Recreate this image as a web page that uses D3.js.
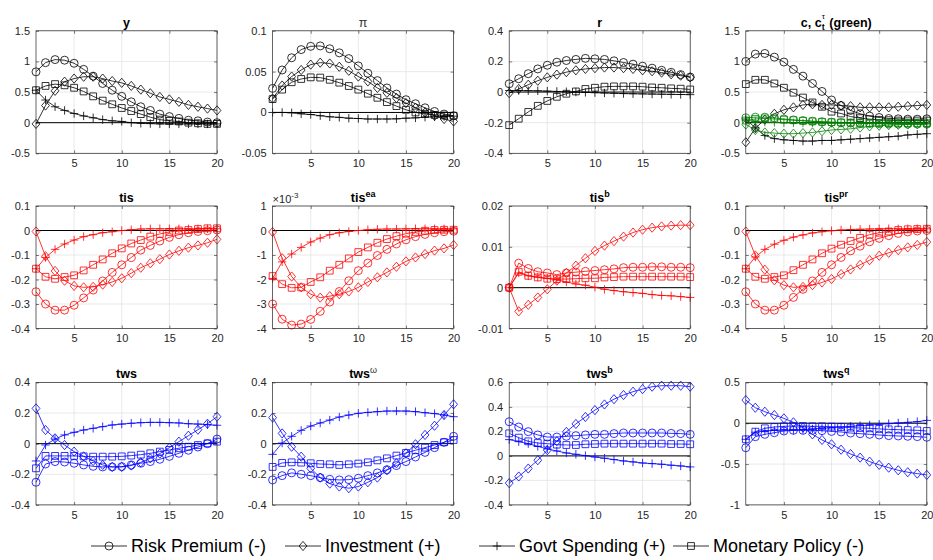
<!DOCTYPE html>
<html><head><meta charset="utf-8">
<script src="https://cdn.jsdelivr.net/npm/d3@7"></script>
<style>
body{margin:0;background:#fff}
svg{display:block}
text{font-family:"Liberation Sans",Arial,Helvetica,sans-serif}
</style>
</head><body>
<svg id="chart" width="933" height="560"></svg>
<script>
// ---------------- DATA ----------------
const periods = [1,2,3,4,5,6,7,8,9,10,11,12,13,14,15,16,17,18,19,20];
const seriesNames = ["Risk Premium (-)","Investment (+)","Govt Spending (+)","Monetary Policy (-)"];

// y
const y_RP  = [0.83,0.98,1.03,1.02,0.97,0.87,0.76,0.64,0.53,0.43,0.34,0.26,0.20,0.14,0.10,0.07,0.04,0.03,0.01,0.00];
const y_INV = [-0.02,0.28,0.52,0.67,0.72,0.75,0.75,0.72,0.68,0.65,0.60,0.54,0.48,0.42,0.38,0.34,0.29,0.26,0.23,0.20];
const y_GOV = [0.53,0.37,0.26,0.20,0.15,0.11,0.08,0.05,0.03,0.02,0.00,-0.01,-0.015,-0.02,-0.02,-0.02,-0.02,-0.02,-0.02,-0.02];
const y_MP  = [0.53,0.60,0.63,0.61,0.57,0.51,0.43,0.36,0.30,0.24,0.19,0.14,0.09,0.05,0.03,0.02,0.00,-0.01,-0.02,-0.02];
// pi
const pi_RP  = [0.0295,0.052,0.067,0.077,0.081,0.0815,0.078,0.073,0.066,0.057,0.048,0.039,0.030,0.0225,0.0156,0.0107,0.0057,0.0012,-0.002,-0.004];
const pi_INV = [0.017,0.033,0.044,0.052,0.0586,0.061,0.060,0.056,0.051,0.044,0.038,0.030,0.024,0.0176,0.0115,0.0057,0.0,-0.004,-0.008,-0.011];
const pi_GOV = [0,0,-0.0004,-0.0016,-0.0025,-0.004,-0.0053,-0.006,-0.007,-0.0074,-0.008,-0.008,-0.008,-0.0078,-0.007,-0.0066,-0.0057,-0.0053,-0.005,-0.0045];
const pi_MP  = [0.0164,0.028,0.037,0.041,0.043,0.0427,0.040,0.0365,0.0324,0.028,0.023,0.018,0.0127,0.0078,0.0033,0.0,-0.0016,-0.003,-0.0037,-0.004];
// r
const r_RP  = [0.054,0.087,0.12,0.151,0.175,0.195,0.206,0.213,0.22,0.217,0.213,0.204,0.193,0.182,0.169,0.156,0.142,0.129,0.114,0.098];
const r_INV = [-0.007,0.02,0.048,0.074,0.096,0.114,0.13,0.142,0.151,0.156,0.16,0.16,0.156,0.151,0.142,0.136,0.127,0.116,0.107,0.096];
const r_GOV = [0.01,0.01,0.009,0.008,0.006,0.004,0.002,0.0,-0.002,-0.004,-0.006,-0.008,-0.01,-0.011,-0.012,-0.013,-0.014,-0.015,-0.016,-0.017];
const r_MP  = [-0.216,-0.174,-0.13,-0.09,-0.058,-0.031,-0.011,0.004,0.02,0.028,0.035,0.037,0.037,0.037,0.035,0.03,0.028,0.024,0.022,0.017];
// c (black) and c_t^tau (green)
const c_RP  = [1.0,1.12,1.13,1.07,0.99,0.87,0.76,0.64,0.51,0.37,0.28,0.2,0.145,0.107,0.085,0.068,0.063,0.057,0.057,0.063];
const c_INV = [-0.32,-0.09,0.05,0.145,0.21,0.25,0.29,0.30,0.29,0.29,0.28,0.27,0.25,0.25,0.25,0.25,0.26,0.27,0.28,0.29];
const c_GOV = [0.06,-0.085,-0.21,-0.26,-0.28,-0.29,-0.30,-0.30,-0.29,-0.29,-0.28,-0.27,-0.26,-0.25,-0.24,-0.23,-0.22,-0.2,-0.19,-0.18];
const c_MP  = [0.63,0.70,0.70,0.64,0.57,0.49,0.41,0.33,0.26,0.18,0.15,0.10,0.074,0.057,0.046,0.04,0.035,0.035,0.035,0.035];
const cT_RP  = [0.08,0.09,0.09,0.08,0.06,0.045,0.035,0.025,0.015,0.007,0.0,-0.005,-0.01,-0.015,-0.018,-0.02,-0.022,-0.023,-0.024,-0.025];
const cT_INV = [-0.03,-0.12,-0.16,-0.17,-0.18,-0.18,-0.17,-0.16,-0.14,-0.12,-0.11,-0.1,-0.08,-0.06,-0.05,-0.04,-0.035,-0.03,-0.025,-0.02];
const cT_GOV = [0.04,0.02,0.01,0.005,0.0,-0.003,-0.005,-0.006,-0.007,-0.008,-0.008,-0.008,-0.008,-0.008,-0.008,-0.008,-0.008,-0.008,-0.008,-0.008];
const cT_MP  = [0.035,0.06,0.07,0.06,0.05,0.04,0.03,0.02,0.014,0.008,0.004,0.0,-0.003,-0.005,-0.006,-0.007,-0.008,-0.008,-0.008,-0.008];
// tis
const tis_RP  = [-0.25,-0.30,-0.325,-0.325,-0.305,-0.275,-0.243,-0.206,-0.171,-0.14,-0.11,-0.08,-0.061,-0.043,-0.028,-0.017,-0.009,-0.004,-0.001,0.002];
const tis_INV = [-0.004,-0.105,-0.165,-0.205,-0.226,-0.232,-0.23,-0.221,-0.21,-0.195,-0.174,-0.152,-0.134,-0.117,-0.098,-0.083,-0.07,-0.061,-0.05,-0.036];
const tis_GOV = [-0.156,-0.11,-0.077,-0.055,-0.039,-0.025,-0.017,-0.009,-0.005,0.0,0.003,0.006,0.007,0.007,0.007,0.007,0.007,0.007,0.007,0.007];
const tis_MP  = [-0.156,-0.189,-0.197,-0.19,-0.183,-0.163,-0.14,-0.118,-0.093,-0.073,-0.053,-0.039,-0.025,-0.014,-0.006,0.0,0.002,0.006,0.009,0.009];
// tis^ea (in units of 1e-3)
const tisEA_RP  = [-3.0,-3.62,-3.86,-3.82,-3.63,-3.3,-2.92,-2.49,-2.05,-1.64,-1.33,-1.02,-0.77,-0.55,-0.38,-0.25,-0.16,-0.09,-0.05,-0.03];
const tisEA_INV = [-0.06,-1.13,-1.88,-2.32,-2.6,-2.74,-2.68,-2.6,-2.49,-2.32,-2.1,-1.91,-1.71,-1.48,-1.26,-1.1,-0.96,-0.82,-0.73,-0.59];
const tisEA_GOV = [-1.96,-1.28,-0.96,-0.69,-0.47,-0.31,-0.17,-0.09,-0.04,0.0,0.03,0.05,0.06,0.06,0.07,0.07,0.07,0.07,0.07,0.07];
const tisEA_MP  = [-1.86,-2.19,-2.34,-2.32,-2.1,-1.91,-1.64,-1.4,-1.14,-0.88,-0.69,-0.5,-0.35,-0.23,-0.13,-0.06,-0.01,0.02,0.03,0.03];
// tis^b
const tisB_RP  = [0.0,0.006,0.0047,0.0039,0.0036,0.0032,0.0036,0.0038,0.004,0.0042,0.0044,0.0046,0.0049,0.005,0.005,0.0051,0.0051,0.005,0.005,0.0049];
const tisB_INV = [0.0,-0.0058,-0.0042,-0.0024,-0.0004,0.0017,0.0036,0.0054,0.0072,0.009,0.0103,0.0114,0.0125,0.0135,0.0142,0.0147,0.015,0.0152,0.0153,0.0153];
const tisB_GOV = [0.0,0.0036,0.0029,0.0026,0.0023,0.0019,0.0014,0.0009,0.0006,0.0001,-0.0004,-0.0007,-0.001,-0.0012,-0.0014,-0.0017,-0.0019,-0.002,-0.0022,-0.0024];
const tisB_MP  = [0.0,0.0039,0.0029,0.0025,0.0022,0.0021,0.0021,0.0022,0.0023,0.0023,0.0025,0.0026,0.0027,0.0027,0.0027,0.0027,0.0027,0.0027,0.0027,0.0026];
// tis^pr
const tisPR_RP  = [-0.25,-0.30,-0.325,-0.325,-0.305,-0.273,-0.24,-0.206,-0.171,-0.14,-0.11,-0.083,-0.064,-0.046,-0.032,-0.021,-0.012,-0.006,-0.002,0.0];
const tisPR_INV = [-0.004,-0.102,-0.16,-0.203,-0.223,-0.232,-0.23,-0.223,-0.212,-0.198,-0.178,-0.159,-0.14,-0.121,-0.103,-0.091,-0.08,-0.069,-0.059,-0.047];
const tisPR_GOV = [-0.156,-0.108,-0.077,-0.056,-0.04,-0.027,-0.018,-0.01,-0.005,-0.001,0.002,0.004,0.005,0.006,0.007,0.007,0.007,0.007,0.007,0.007];
const tisPR_MP  = [-0.156,-0.189,-0.197,-0.19,-0.183,-0.162,-0.14,-0.118,-0.093,-0.074,-0.058,-0.043,-0.03,-0.017,-0.009,-0.004,0.002,0.005,0.006,0.007];
// tws
const tws_RP  = [-0.252,-0.133,-0.117,-0.12,-0.128,-0.139,-0.148,-0.152,-0.152,-0.15,-0.139,-0.128,-0.117,-0.102,-0.083,-0.063,-0.043,-0.022,0.0,0.03];
const tws_INV = [0.23,0.089,0.035,-0.009,-0.052,-0.083,-0.113,-0.139,-0.152,-0.152,-0.143,-0.122,-0.096,-0.065,-0.026,0.013,0.052,0.091,0.13,0.176];
const tws_GOV = [-0.113,-0.009,0.03,0.057,0.074,0.089,0.1,0.111,0.122,0.128,0.133,0.137,0.139,0.139,0.137,0.135,0.13,0.128,0.124,0.12];
const tws_MP  = [-0.161,-0.08,-0.08,-0.08,-0.08,-0.083,-0.085,-0.085,-0.085,-0.083,-0.078,-0.072,-0.063,-0.052,-0.041,-0.03,-0.02,-0.009,0.002,0.013];
// tws^omega
const twsW_RP  = [-0.237,-0.209,-0.191,-0.2,-0.209,-0.222,-0.233,-0.237,-0.235,-0.226,-0.209,-0.191,-0.17,-0.143,-0.117,-0.087,-0.057,-0.026,0.009,0.048];
const twsW_INV = [0.17,0.067,-0.02,-0.085,-0.161,-0.222,-0.261,-0.28,-0.291,-0.28,-0.252,-0.222,-0.174,-0.128,-0.063,-0.004,0.057,0.117,0.187,0.257];
const twsW_GOV = [-0.07,0.004,0.048,0.087,0.115,0.135,0.154,0.174,0.187,0.198,0.204,0.209,0.213,0.213,0.213,0.209,0.202,0.196,0.187,0.176];
const twsW_MP  = [-0.152,-0.126,-0.122,-0.124,-0.128,-0.133,-0.135,-0.139,-0.135,-0.13,-0.122,-0.109,-0.096,-0.078,-0.061,-0.043,-0.026,-0.009,0.009,0.024];
// tws^b
const twsB_RP  = [0.279,0.236,0.198,0.171,0.154,0.154,0.16,0.165,0.171,0.176,0.176,0.182,0.187,0.187,0.187,0.187,0.187,0.184,0.182,0.176];
const twsB_INV = [-0.222,-0.168,-0.103,-0.035,0.047,0.12,0.196,0.261,0.318,0.374,0.42,0.463,0.497,0.524,0.545,0.565,0.573,0.573,0.573,0.565];
const twsB_GOV = [0.133,0.116,0.1,0.078,0.057,0.04,0.024,0.013,0.002,-0.009,-0.019,-0.03,-0.041,-0.049,-0.058,-0.063,-0.068,-0.076,-0.082,-0.09];
const twsB_MP  = [0.184,0.149,0.119,0.105,0.1,0.092,0.089,0.089,0.095,0.097,0.1,0.1,0.1,0.1,0.1,0.1,0.1,0.097,0.097,0.095];
// tws^q
const twsQ_RP  = [-0.3,-0.165,-0.136,-0.116,-0.095,-0.087,-0.087,-0.087,-0.091,-0.1,-0.107,-0.12,-0.128,-0.136,-0.144,-0.152,-0.156,-0.16,-0.164,-0.172];
const twsQ_INV = [0.284,0.19,0.141,0.1,0.06,0.011,-0.054,-0.136,-0.205,-0.258,-0.324,-0.377,-0.421,-0.47,-0.51,-0.544,-0.576,-0.6,-0.617,-0.633];
const twsQ_GOV = [-0.197,-0.11,-0.095,-0.087,-0.083,-0.083,-0.079,-0.07,-0.062,-0.054,-0.046,-0.038,-0.03,-0.022,-0.013,-0.005,0.003,0.011,0.019,0.035];
const twsQ_MP  = [-0.197,-0.103,-0.062,-0.046,-0.038,-0.034,-0.034,-0.038,-0.038,-0.042,-0.046,-0.054,-0.058,-0.062,-0.07,-0.075,-0.079,-0.083,-0.087,-0.095];

// axis tick values
const xTickVals = [5,10,15,20];
const ticksY   = [-0.5,0,0.5,1,1.5];
const ticksPi  = [-0.05,0,0.05,0.1];
const ticksR   = [-0.4,-0.2,0,0.2,0.4];
const ticksTis = [-0.4,-0.3,-0.2,-0.1,0,0.1];
const ticksEA  = [-4,-3,-2,-1,0,1];
const ticksB   = [-0.01,0,0.01,0.02];
const ticksTws = [-0.4,-0.2,0,0.2,0.4];
const ticksTwsB= [-0.4,-0.2,0,0.2,0.4,0.6];
const ticksQ   = [-1,-0.5,0,0.5];

// ---------------- CONFIG ----------------
const BLACK="#000000", RED="#ff0000", BLUE="#0000ff", GREEN="#008000";
const panels = [
  {title:[{t:"y"}], ticks:ticksY, color:BLACK, s:[y_RP,y_INV,y_GOV,y_MP]},
  {title:[{t:"\u03c0", light:true}], ticks:ticksPi, color:BLACK, s:[pi_RP,pi_INV,pi_GOV,pi_MP]},
  {title:[{t:"r"}], ticks:ticksR, color:BLACK, s:[r_RP,r_INV,r_GOV,r_MP]},
  {title:"c", ticks:ticksY, color:BLACK, s:[c_RP,c_INV,c_GOV,c_MP], extra:{color:GREEN, s:[cT_RP,cT_INV,cT_GOV,cT_MP]}},
  {title:[{t:"tis"}], ticks:ticksTis, color:RED, s:[tis_RP,tis_INV,tis_GOV,tis_MP]},
  {title:[{t:"tis"},{t:"ea",sup:true}], ticks:ticksEA, color:RED, s:[tisEA_RP,tisEA_INV,tisEA_GOV,tisEA_MP], exp:true},
  {title:[{t:"tis"},{t:"b",sup:true}], ticks:ticksB, color:RED, s:[tisB_RP,tisB_INV,tisB_GOV,tisB_MP]},
  {title:[{t:"tis"},{t:"pr",sup:true}], ticks:ticksTis, color:RED, s:[tisPR_RP,tisPR_INV,tisPR_GOV,tisPR_MP]},
  {title:[{t:"tws"}], ticks:ticksTws, color:BLUE, s:[tws_RP,tws_INV,tws_GOV,tws_MP]},
  {title:[{t:"tws"},{t:"\u03c9",sup:true,light:true}], ticks:ticksTws, color:BLUE, s:[twsW_RP,twsW_INV,twsW_GOV,twsW_MP]},
  {title:[{t:"tws"},{t:"b",sup:true}], ticks:ticksTwsB, color:BLUE, s:[twsB_RP,twsB_INV,twsB_GOV,twsB_MP]},
  {title:[{t:"tws"},{t:"q",sup:true}], ticks:ticksQ, color:BLUE, s:[twsQ_RP,twsQ_INV,twsQ_GOV,twsQ_MP]}
];

// markers
const markers = [
  (x,y)=>`M${x-4},${y}a4,4 0 1,0 8,0a4,4 0 1,0 -8,0Z`,
  (x,y)=>`M${x},${y-4.6}L${x+3.9},${y}L${x},${y+4.6}L${x-3.9},${y}Z`,
  (x,y)=>`M${x-4.2},${y}H${x+4.2}M${x},${y-4.2}V${y+4.2}`,
  (x,y)=>`M${x-3.4},${y-3.4}H${x+3.4}V${y+3.4}H${x-3.4}Z`
];

// ---------------- DRAW ----------------
const svg = d3.select("#chart");
const W=181, H=122.5;
const lefts=[36,272.6,509.2,745.8], tops=[30.8,206,382.4];
const AX="#262626";

function drawSeries(g, x, y, arr, color, k){
  const line=d3.line().x((d,i)=>x(periods[i])).y(d=>y(d));
  g.append("path").attr("d",line(arr)).attr("fill","none").attr("stroke",color).attr("stroke-width",0.8);
  g.append("g").selectAll("path").data(arr).join("path")
    .attr("d",(d,i)=>markers[k](x(periods[i]),y(d)))
    .attr("fill","none").attr("stroke",color).attr("stroke-width",0.8);
}

panels.forEach((p,i)=>{
  const L=lefts[i%4], T=tops[Math.floor(i/4)];
  const x=d3.scaleLinear().domain([1,20]).range([L,L+W]);
  const y=d3.scaleLinear().domain([p.ticks[0],p.ticks[p.ticks.length-1]]).range([T+H,T]);
  const g=svg.append("g");
  // grid
  g.append("g").selectAll("line").data(xTickVals).join("line")
    .attr("x1",d=>x(d)).attr("x2",d=>x(d)).attr("y1",T).attr("y2",T+H)
    .attr("stroke","#e3e3e3").attr("stroke-width",0.8);
  g.append("g").selectAll("line").data(p.ticks).join("line")
    .attr("x1",L).attr("x2",L+W).attr("y1",d=>y(d)).attr("y2",d=>y(d))
    .attr("stroke","#e3e3e3").attr("stroke-width",0.8);
  // axes
  const fmt=d=>String(d);
  const axL=g.append("g").attr("transform",`translate(${L},0)`)
    .call(d3.axisLeft(y).tickValues(p.ticks).tickFormat(fmt).tickSizeInner(-3).tickSizeOuter(0).tickPadding(6));
  const axB=g.append("g").attr("transform",`translate(0,${T+H})`)
    .call(d3.axisBottom(x).tickValues(xTickVals).tickFormat(fmt).tickSizeInner(-3).tickSizeOuter(0).tickPadding(6));
  const axR=g.append("g").attr("transform",`translate(${L+W},0)`)
    .call(d3.axisRight(y).tickValues(p.ticks).tickFormat("").tickSizeInner(-3).tickSizeOuter(0));
  const axT=g.append("g").attr("transform",`translate(0,${T})`)
    .call(d3.axisTop(x).tickValues(xTickVals).tickFormat("").tickSizeInner(-3).tickSizeOuter(0));
  [axL,axB,axR,axT].forEach(a=>{
    a.select(".domain").remove();
    a.selectAll("line").attr("stroke",AX).attr("stroke-width",0.6);
    a.selectAll("text").attr("fill",AX).style("font-size","11px").style("font-family","'Liberation Sans',Arial,sans-serif");
  });
  // zero line
  g.append("line").attr("x1",x(1)).attr("x2",x(20)).attr("y1",y(0)).attr("y2",y(0))
    .attr("stroke","#000").attr("stroke-width",1);
  // series
  p.s.forEach((arr,k)=>drawSeries(g,x,y,arr,p.color,k));
  if(p.extra) p.extra.s.forEach((arr,k)=>drawSeries(g,x,y,arr,p.extra.color,k));
  // box
  g.append("rect").attr("x",L).attr("y",T).attr("width",W).attr("height",H)
    .attr("fill","none").attr("stroke",AX).attr("stroke-width",0.7);
  // exponent label
  if(p.exp){
    const e=g.append("text").attr("x",L).attr("y",T-3).attr("fill",AX).style("font-size","11px");
    e.append("tspan").text("\u00d710");
    e.append("tspan").attr("dy",-5).style("font-size","8px").text("-3");
  }
  // title
  const tt=g.append("text").attr("x",L+W/2).attr("y",T-4).attr("text-anchor","middle")
    .style("font-size","12.5px").style("font-weight","bold").attr("fill","#000");
  if(p.title==="c"){
    tt.append("tspan").text("c, c");
    tt.append("tspan").attr("dy",3).style("font-size","9px").text("t");
    tt.append("tspan").attr("dx",-3).attr("dy",-11).style("font-size","8px").style("font-weight","normal").text("\u03c4");
    tt.append("tspan").attr("dx",1).attr("dy",8).text(" (green)");
  } else {
    p.title.forEach(s=>{
      const ts=tt.append("tspan").text(s.t);
      if(s.sup){ts.attr("dy",-5).style("font-size","9px");}
      if(s.light){ts.style("font-weight","normal").attr("fill","#333");}
    });
  }
});

// legend (equal-width columns, as in the reference)
const leg=svg.append("g");
const legY=546, legX0=91, lineLen=36, legFont=18, colW=194;
seriesNames.forEach((n,k)=>{
  const cx=legX0+k*colW;
  leg.append("line").attr("x1",cx).attr("x2",cx+lineLen).attr("y1",legY).attr("y2",legY)
    .attr("stroke","#000").attr("stroke-width",0.8);
  leg.append("path").attr("d",markers[k](cx+lineLen/2,legY)).attr("fill","none").attr("stroke","#000").attr("stroke-width",0.8);
  leg.append("text").attr("x",cx+lineLen+4).attr("y",legY+6).style("font-size",legFont+"px").attr("fill","#000").text(n);
});
</script>
</body></html>
